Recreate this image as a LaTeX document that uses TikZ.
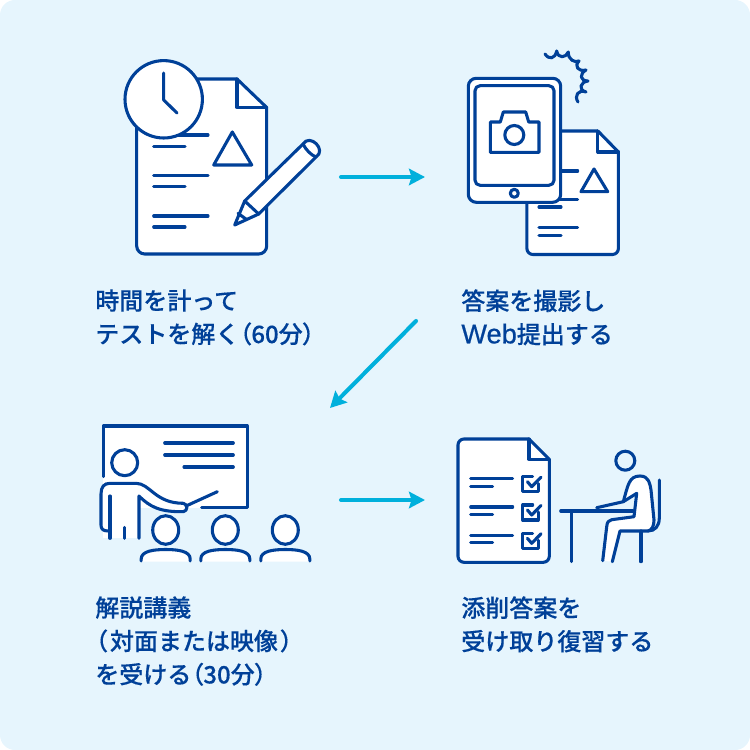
\documentclass[tikz,border=0pt]{standalone}
\usepackage{fontspec}
\setmainfont[RawFeature={embolden=0.25}]{Noto Sans CJK JP Medium}
\newfontfamily\paltfont[RawFeature={+palt;embolden=0.25}]{Noto Sans CJK JP Medium}
\newfontfamily\latinfont[RawFeature={embolden=0.6}]{Liberation Sans}
\usetikzlibrary{arrows.meta}
\definecolor{iconblue}{HTML}{004098}
\definecolor{arrowblue}{HTML}{00B0DC}
\definecolor{panelblue}{HTML}{E6F5FD}
\newcommand{\lparen}{{\paltfont （}}
\newcommand{\rparen}{{\paltfont ）}}
\tikzset{
icon/.style={draw=iconblue, line width=1.75pt, line join=round, line cap=round},
flowarrow/.style={draw=arrowblue, line width=2.3pt, line cap=round, -{Stealth[length=0.32cm, width=0.33cm, inset=0.05cm]}},
caption/.style={anchor=north west, align=left, inner sep=0pt, text=iconblue, font=\fontsize{13.66}{19}\selectfont},
sheet/.pic={
  \draw[icon, fill=white] (71,0) [sharp corners] -- (91.5,21) [rounded corners=0.12cm] -- (91.5,123.5) -- (0,123.5) -- (0,0) [sharp corners] -- (71,0);
  \draw[icon] (71,0) -- (71,21) -- (91.5,21);
  },
student/.pic={
  \draw[icon, fill=white] (0,0) ellipse [x radius=13, y radius=14.3];
  \fill[white] (-24.5,31.7) -- (-24.5,29) .. controls (-24.5,21) and (-12,19.5) .. (0,19.5) .. controls (12,19.5) and (24.5,21) .. (24.5,29) -- (24.5,31.7) -- cycle;
  \draw[icon] (-24.5,31) -- (-24.5,29) .. controls (-24.5,21) and (-12,19.5) .. (0,19.5) .. controls (12,19.5) and (24.5,21) .. (24.5,29) -- (24.5,31);
  },
checkmark/.pic={
  \draw[icon] (15.5,7) -- (15.5,15) -- (0,15) -- (0,0) -- (10,0);
  \draw[icon] (4.7,5) -- (9,10) -- (18.3,0.5);
  }
}
\begin{document}
\begin{tikzpicture}[x=0.02cm, y=-0.02cm]
\useasboundingbox (0,0) rectangle (750,750);
\fill[panelblue, rounded corners=0.3cm] (0,0) rectangle (750,750);
% test sheet, clock, pencil
\draw[icon, fill=white] (237,79) [sharp corners] -- (266.7,107.5) [rounded corners=0.16cm] -- (266.7,254) -- (136.7,254) -- (136.7,79) [sharp corners] -- (237,79);
\draw[icon] (237,79) -- (237,107.5) -- (266.7,107.5);
\draw[icon] (153.7,135) -- (208,135);
\draw[icon] (153.7,146.5) -- (185,146.5);
\draw[icon] (153.7,175.7) -- (208,175.7);
\draw[icon] (153.7,186.7) -- (185,186.7);
\draw[icon] (153.7,216) -- (208,216);
\draw[icon] (153.7,227) -- (185,227);
\draw[icon] (232.3,132) -- (213.7,165) -- (251.7,165) -- cycle;
\draw[icon, fill=white] (163.7,99.3) circle [radius=38.7];
\draw[icon] (163.7,73) -- (163.7,100) -- (177,113);
\draw[icon, fill=white] (244.7,201) -- (303,144) .. controls (310,133) and (327,150) .. (316,157) -- (258.7,214) -- (234.7,225) -- cycle;
\draw[icon] (244.7,201) -- (258.7,214);
\draw[icon] (238,213.3) -- (246.3,219.3);
\draw[icon] (303,144) .. controls (306,150) and (311,155) .. (316,157);
% tablet, second sheet
\pic at (526.9,131) {sheet};
\draw[icon] (539,171) -- (577.7,171);
\draw[icon] (539,199.3) -- (577.7,199.3);
\draw[icon] (539,207) -- (561,207);
\draw[icon] (539,227.7) -- (577.7,227.7);
\draw[icon] (539,235.3) -- (561,235.3);
\draw[icon] (594,169) -- (581,191.7) -- (607.7,191.7) -- cycle;
\draw[icon, fill=white, rounded corners=0.16cm] (468.3,78.3) rectangle (560.7,202.3);
\draw[icon, rounded corners=0.1cm] (475,85.7) rectangle (554,185.3);
\draw[icon] (514.3,193.3) circle [radius=4];
\draw[icon] (490.3,122) -- (500.3,122) -- (503.3,112) -- (525.7,112) -- (528.7,122) -- (539,122) -- (539,152.3) -- (490.3,152.3) -- cycle;
\draw[icon] (514.3,135) circle [radius=9.5];
\draw[icon] (545,54) .. controls (549,60) and (555,59) .. (556.7,51) .. controls (558,59) and (566,58) .. (568.3,52) .. controls (568,60) and (575,63) .. (579,61) .. controls (574,66) and (578,72) .. (586,70) .. controls (579,74) and (580,81) .. (588,81) .. controls (580,82) and (578,90) .. (586,92) .. controls (578,89) and (574,96) .. (578,102);
% lecture
\fill[white] (103.3,426) rectangle (247.3,507.7);
\fill[white] (103.3,496) rectangle (139,538.3);
\draw[icon] (103.3,476.7) -- (103.3,426) -- (247.3,426) -- (247.3,507.7) -- (201.7,507.7);
\draw[icon] (164.7,443) -- (233.3,443);
\draw[icon] (164.7,455) -- (233.3,455);
\draw[icon] (184,467) -- (233.3,467);
\draw[icon] (124.7,462.7) circle [radius=13];
\draw[icon, fill=white] (108.3,531) .. controls (103,531) and (101,529) .. (101,525) -- (101,494) .. controls (101,487) and (104,483.3) .. (110,483.3) -- (136,483.3) .. controls (150,483.3) and (155,503.3) .. (183.3,503.3) .. controls (188,504) and (188,511) .. (183.3,511.7) .. controls (160,512) and (150,507) .. (139,496) -- (139,538.3);
\draw[icon] (110,496) -- (110,538.3);
\draw[icon] (124.7,527.3) -- (124.7,538.3);
\draw[icon] (186,506) -- (217.3,491.7);
\pic at (165.7,530) {student};
\pic at (225.3,530) {student};
\pic at (285.3,530) {student};
% returned sheet, desk
\draw[icon, fill=white] (529,439) [sharp corners] -- (549.3,459.3) [rounded corners=0.12cm] -- (549.3,562.3) -- (458,562.3) -- (458,439) -- (529,439);
\draw[icon] (529,439) -- (529,459.3) -- (549.3,459.3);
\foreach \rowy in {0,28.3,56.6} {
  \draw[icon] (470.7,478.7+\rowy) -- (512.7,478.7+\rowy);
  \draw[icon] (470.7,486.3+\rowy) -- (492.7,486.3+\rowy);
  \pic at (522.7,476.7+\rowy) {checkmark};
}
\fill[white] (623.3,501.7) .. controls (628,485) and (629,476) .. (640,476) .. controls (649,476) and (650,484) .. (651,490) -- (654,520) .. controls (654,526) and (652,530) .. (648,531) -- (620,531) -- (612.3,561.7) -- (602.7,560.7) -- (606.7,526.7) .. controls (607,522) and (609,520) .. (611.7,519.7) -- (634,516.7) -- (636.7,493.3) -- cycle;
\draw[icon] (623.3,501.7) .. controls (628,485) and (629,476) .. (640,476) .. controls (649,476) and (650,484) .. (651,490) -- (654,520) .. controls (654,526) and (652,530) .. (648,531) -- (620,531) -- (612.3,561.7);
\draw[icon] (602.7,560.7) -- (606.7,526.7) .. controls (607,522) and (609,520) .. (611.7,519.7) -- (634,516.7) -- (636.7,493.3);
\draw[icon] (596.7,507.7) -- (623.3,501.7) -- (636.7,493.3);
\draw[icon] (560.7,511) -- (633,511);
\draw[icon] (571.3,511) -- (571.3,561.7);
\draw[icon] (641,531) -- (641,561.7);
\draw[icon] (659.3,480) -- (659.3,518) .. controls (659.3,526) and (655,531) .. (648,531);
\draw[icon] (625.3,460.7) circle [radius=9.5];
% flow
\coordinate (exam east) at (341,177);
\coordinate (photo west) at (425,177);
\coordinate (photo south) at (416,321);
\coordinate (lecture north) at (330,408);
\coordinate (lecture east) at (341,500);
\coordinate (review west) at (425,500);
\draw[flowarrow] (exam east) -- (photo west);
\draw[flowarrow] (photo south) -- (lecture north);
\draw[flowarrow] (lecture east) -- (review west);
% captions
\node[caption] (exam) at (95,289) {時間を計って\\テストを解く\lparen 60分\rparen};
\node[caption] (photo) at (461,289) {答案を撮影し\\{\latinfont\fontsize{15.5}{19}\selectfont Web}提出する};
\node[caption] (lecture) at (95,596) {解説講義\\\lparen\hspace{1.5pt}対面または映像\hspace{1.5pt}\rparen\\を受ける\lparen 30分\rparen};
\node[caption] (review) at (461,596) {添削答案を\\受け取り復習する};
\end{tikzpicture}
\end{document}
